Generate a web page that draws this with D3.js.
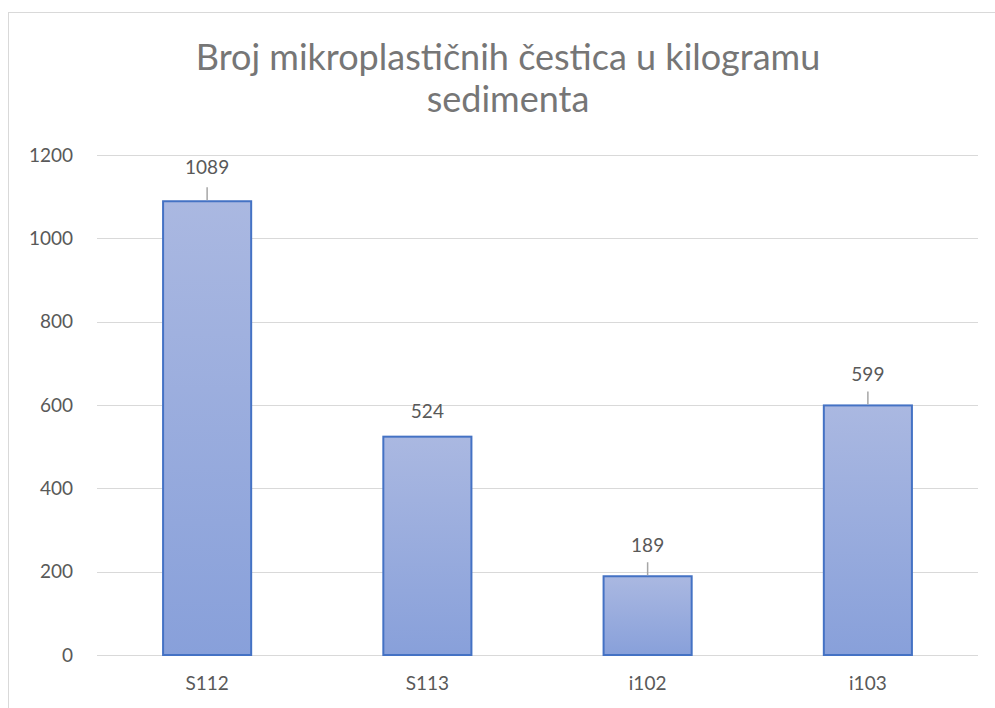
<!DOCTYPE html>
<html>
<head>
<meta charset="utf-8">
<style>
  body { margin: 0; background: #fff; }
  text { font-family: Lato, "Open Sans", sans-serif; }
</style>
</head>
<body>
<script src="https://d3js.org/d3.v7.min.js"></script>
<script>
// chart data
var categories = ["S112", "S113", "i102", "i103"];
var values = [1089, 524, 189, 599];
var yTicks = [0, 200, 400, 600, 800, 1000, 1200];
var titleLines = ["Broj mikroplastičnih čestica u kilogramu", "sedimenta"];

// label placement (Excel had some labels nudged up, with leader lines)
var labelLift = [34, 26, 31, 31];
var hasLeader = [true, false, true, true];

var width = 995, height = 708;
var margin = {left: 97, right: 17, top: 155, bottom: 53};

var svg = d3.select("body").append("svg")
    .attr("width", width)
    .attr("height", height);

// chart area border
svg.append("rect")
    .attr("x", 8.5).attr("y", 12.5)
    .attr("width", 1000).attr("height", 720)
    .attr("fill", "#fff")
    .attr("stroke", "#d9d9d9")
    .attr("stroke-width", 1);

var defs = svg.append("defs");
var grad = defs.append("linearGradient")
    .attr("id", "barGrad")
    .attr("x1", 0).attr("y1", 0).attr("x2", 0).attr("y2", 1);
grad.append("stop").attr("offset", "0%").attr("stop-color", "#aab8e1");
grad.append("stop").attr("offset", "100%").attr("stop-color", "#88a0da");

var x = d3.scaleBand()
    .domain(categories)
    .range([margin.left, width - margin.right])
    .paddingInner(0.6)
    .paddingOuter(0.3);

var y = d3.scaleLinear()
    .domain([0, 1200])
    .range([height - margin.bottom, margin.top]);

// title
svg.append("g").selectAll("text")
    .data(titleLines)
    .enter().append("text")
    .attr("x", 508)
    .attr("y", function(d, i) { return 70 + i * 42; })
    .attr("text-anchor", "middle")
    .attr("fill", "#767676")
    .style("font-size", "36px")
    .text(function(d) { return d; });

// gridlines
svg.append("g").selectAll("line")
    .data(yTicks)
    .enter().append("line")
    .attr("x1", margin.left).attr("x2", width - margin.right)
    .attr("y1", function(d) { return Math.round(y(d)) + 0.5; })
    .attr("y2", function(d) { return Math.round(y(d)) + 0.5; })
    .attr("stroke", "#d9d9d9")
    .attr("stroke-width", 1.2);

// y axis labels
var yAxis = d3.axisLeft(y).tickValues(yTicks).tickFormat(d3.format("d")).tickSize(0).tickPadding(24);
var yg = svg.append("g")
    .attr("transform", "translate(" + margin.left + ",0)")
    .call(yAxis);
yg.select(".domain").remove();
yg.selectAll("text")
    .attr("fill", "#595959")
    .style("font-size", "19px")
    .style("font-family", "Lato, sans-serif");

// x axis labels
var xAxis = d3.axisBottom(x).tickSize(0).tickPadding(22);
var xg = svg.append("g")
    .attr("transform", "translate(0," + (height - margin.bottom) + ")")
    .call(xAxis);
xg.select(".domain").remove();
xg.selectAll("text")
    .attr("fill", "#595959")
    .style("font-size", "19px")
    .style("font-family", "Lato, sans-serif");

// bars
svg.append("g").selectAll("rect")
    .data(values)
    .enter().append("rect")
    .attr("x", function(d, i) { return x(categories[i]); })
    .attr("y", function(d) { return y(d); })
    .attr("width", x.bandwidth())
    .attr("height", function(d) { return y(0) - y(d); })
    .attr("fill", "url(#barGrad)")
    .attr("stroke", "#4472c4")
    .attr("stroke-width", 2);

// leader lines
svg.append("g").selectAll("line")
    .data(values)
    .enter().filter(function(d, i) { return hasLeader[i]; })
    .append("line")
    .attr("x1", function(d) { return x(categories[values.indexOf(d)]) + x.bandwidth() / 2; })
    .attr("x2", function(d) { return x(categories[values.indexOf(d)]) + x.bandwidth() / 2; })
    .attr("y1", function(d) { return y(d) - 1; })
    .attr("y2", function(d) { return y(d) - 14; })
    .attr("stroke", "#a6a6a6")
    .attr("stroke-width", 1.5);

// data labels
svg.append("g").selectAll("text")
    .data(values)
    .enter().append("text")
    .attr("x", function(d, i) { return x(categories[i]) + x.bandwidth() / 2; })
    .attr("y", function(d, i) { return y(d) - labelLift[i] + 7; })
    .attr("text-anchor", "middle")
    .attr("fill", "#595959")
    .style("font-size", "19px")
    .text(function(d) { return d; });
</script>
</body>
</html>
